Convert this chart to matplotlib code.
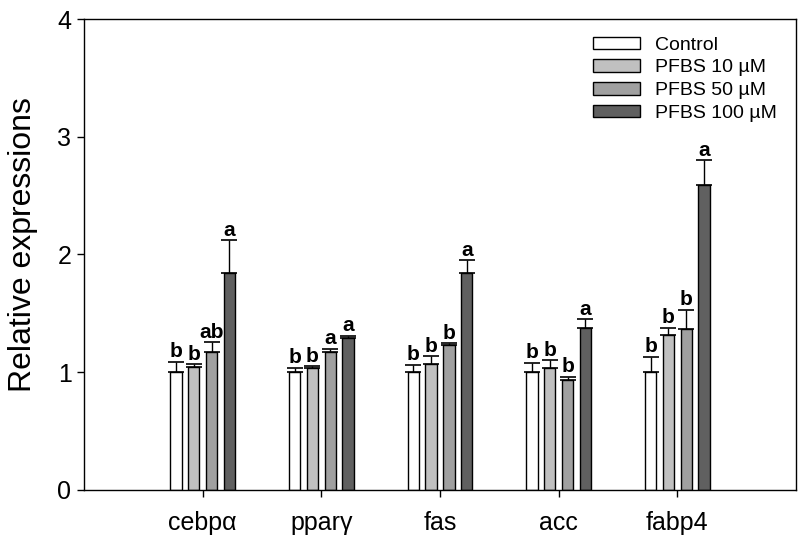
import matplotlib
matplotlib.use("Agg")
import matplotlib.pyplot as plt
import numpy as np

plt.rcParams['font.family'] = ['Liberation Sans', 'DejaVu Sans']

genes = ['cebpα', 'pparγ', 'fas', 'acc', 'fabp4']
groups = ['Control', 'PFBS 10 µM', 'PFBS 50 µM', 'PFBS 100 µM']
colors = ['#ffffff', '#c0c0c0', '#a0a0a0', '#606060']

control = [1.00, 1.00, 1.00, 1.00, 1.00]
pfbs10 = [1.047, 1.033, 1.073, 1.033, 1.319]
pfbs50 = [1.17, 1.17, 1.231, 0.937, 1.37]
pfbs100 = [1.845, 1.29, 1.843, 1.373, 2.586]

err_control = [0.09, 0.04, 0.064, 0.081, 0.132]
err_10 = [0.023, 0.02, 0.065, 0.071, 0.057]
err_50 = [0.087, 0.03, 0.017, 0.025, 0.159]
err_100 = [0.275, 0.02, 0.11, 0.077, 0.214]

let_control = ['b', 'b', 'b', 'b', 'b']
let_10 = ['b', 'b', 'b', 'b', 'b']
let_50 = ['ab', 'a', 'b', 'b', 'b']
let_100 = ['a', 'a', 'a', 'a', 'a']

means = [control, pfbs10, pfbs50, pfbs100]
errs = [err_control, err_10, err_50, err_100]
letters = [let_control, let_10, let_50, let_100]

fig = plt.figure(figsize=(8, 5.46), dpi=100)
ax = fig.add_axes([0.105, 0.1026, 0.89, 0.8626])

x = np.arange(len(genes))
pitch = 0.15
width = 0.095
for i, (m, e, lt, c, lab) in enumerate(zip(means, errs, letters, colors, groups)):
    xs = x + (i - 1.5) * pitch
    ax.bar(xs, m, width, color=c, edgecolor='black', linewidth=1.0, label=lab, zorder=2)
    ax.errorbar(xs, m, yerr=[np.zeros(len(m)), e], fmt='none', ecolor='black',
                elinewidth=1.0, capsize=5.5, capthick=1.2, zorder=3)
    for xi, mi, ei, li in zip(xs, m, e, lt):
        ax.text(xi, mi + ei + 0.004, li, ha='center', va='bottom',
                fontsize=15, fontweight='bold', zorder=4)

ax.set_xlim(-1.0, 5.0)
ax.set_ylim(0, 4)
ax.set_yticks([0, 1, 2, 3, 4])
ax.set_xticks(x)
ax.set_xticklabels(genes)
ax.tick_params(axis='both', direction='out', length=5, width=1.0, labelsize=18)
ax.tick_params(axis='x', pad=10)
ax.tick_params(axis='y', pad=4)
ax.set_ylabel('Relative expressions', fontsize=23)
ax.yaxis.set_label_coords(-0.064, 0.522)
for s in ax.spines.values():
    s.set_linewidth(1.0)

leg = ax.legend(loc='upper right', bbox_to_anchor=(0.998, 1.0), frameon=False,
                fontsize=14, handlelength=2.4, handleheight=0.6,
                labelspacing=0.3, handletextpad=0.8, borderaxespad=0.5)

fig.savefig('out.png', dpi=100)
